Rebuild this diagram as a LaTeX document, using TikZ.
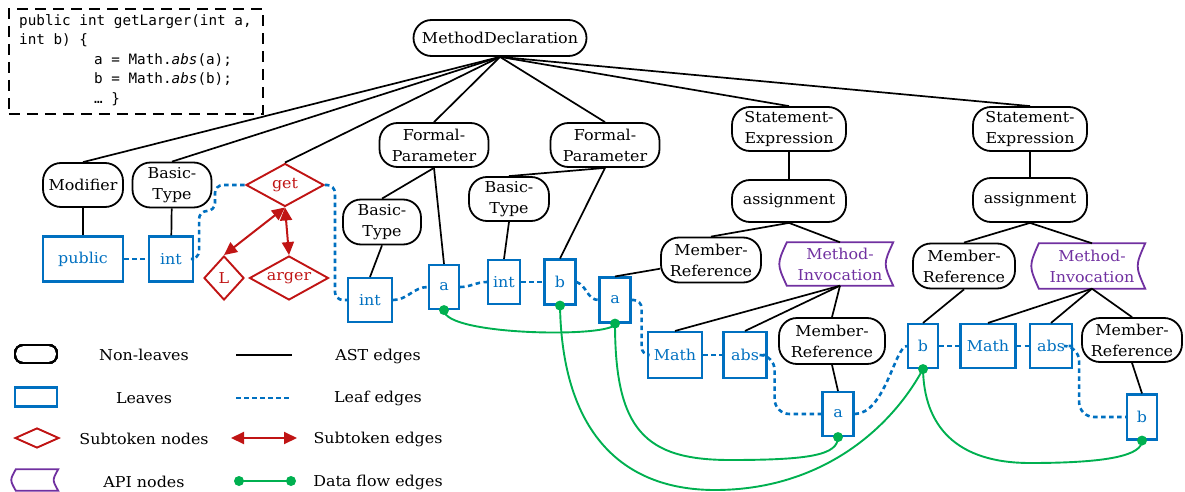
\documentclass[tikz,border=0pt]{standalone}
\usepackage{fontspec}
\setmainfont{DejaVu Serif}[FakeStretch=1.06]
\newfontfamily\codefont{DejaVu Sans Mono}
\usetikzlibrary{shapes.geometric,arrows.meta}
\definecolor{leafblue}{RGB}{0,112,192}
\definecolor{subred}{RGB}{192,20,20}
\definecolor{apipurple}{RGB}{112,48,160}
\definecolor{dfgreen}{RGB}{0,176,80}
\newcommand{\apiborder}[2][10pt]{\draw[apipurple,line width=1.8pt] (#2.north west) .. controls ([xshift=-#1]#2.west) .. (#2.south west) -- (#2.south east) .. controls ([xshift=-#1]#2.east) .. (#2.north east) -- cycle;}
\newcommand{\dfdot}[1]{\fill[dfgreen] (#1) circle (5pt);}
\tikzset{
  txt/.style={font=\fontsize{15}{21}\selectfont},
  nonleaf/.style={txt, draw, line width=1.8pt, rounded corners=18pt, align=center, inner sep=0pt},
  leaf/.style={txt, draw=leafblue, line width=2.1pt, text=leafblue, inner sep=0pt},
  sub/.style={txt, diamond, aspect=2, draw=subred, line width=1.9pt, text=subred, inner sep=0pt},
  api/.style={txt, text=apipurple, align=center, inner sep=0pt},
  ast/.style={line width=1.7pt},
  leafedge/.style={leafblue, line width=2.6pt, dash pattern=on 4.5pt off 3.5pt, rounded corners=8pt},
  subedge/.style={subred, line width=2pt, {Triangle[length=13pt,width=12pt]}-{Triangle[length=13pt,width=12pt]}},
  dataflow/.style={dfgreen, line width=1.9pt},
  lgtext/.style={txt, inner sep=0pt},
}
\begin{document}
\begin{tikzpicture}[x=1pt,y=-1pt]
\useasboundingbox (0,0) rectangle (1185,492);
% code box
\node[draw, dash pattern=on 11pt off 7pt, line width=1.6pt, minimum width=254, minimum height=105, anchor=north west, inner sep=0pt] (codebox) at (8,8) {};
\node[anchor=north west, align=left, inner sep=0pt, font=\codefont\fontsize{14.3}{19.6}\selectfont] (code) at (19,14)
 {public int getLarger(int a,\\int b) \{\\\hspace*{75pt}a = Math.\textit{abs}(a);\\\hspace*{75pt}b = Math.\textit{abs}(b);\\\hspace*{75pt}… \}};
% non-leaves
\node[nonleaf, minimum width=173, minimum height=36] (md) at (500,38) {MethodDeclaration};
\node[nonleaf, minimum width=80, minimum height=44] (mod) at (83,185) {Modifier};
\node[nonleaf, minimum width=79, minimum height=45] (bt1) at (172,185) {Basic-\\Type};
\node[nonleaf, minimum width=109, minimum height=44] (fp1) at (434,145) {Formal-\\Parameter};
\node[nonleaf, minimum width=109, minimum height=44] (fp2) at (605,145) {Formal-\\Parameter};
\node[nonleaf, minimum width=78, minimum height=45] (bt2) at (382,222) {Basic-\\Type};
\node[nonleaf, minimum width=80, minimum height=44] (bt3) at (509,199) {Basic-\\Type};
\node[nonleaf, minimum width=114, minimum height=44] (se1) at (789,129) {Statement-\\Expression};
\node[nonleaf, minimum width=114, minimum height=42] (as1) at (789,201) {assignment};
\node[nonleaf, minimum width=100, minimum height=45] (mr1) at (711,260) {Member-\\Reference};
\node[nonleaf, minimum width=106, minimum height=46] (mr3) at (832,341) {Member-\\Reference};
\node[nonleaf, minimum width=114, minimum height=44] (se2) at (1030,129) {Statement-\\Expression};
\node[nonleaf, minimum width=114, minimum height=44] (as2) at (1030,200) {assignment};
\node[nonleaf, minimum width=102, minimum height=45] (mr2) at (964,266) {Member-\\Reference};
\node[nonleaf, minimum width=100, minimum height=44] (mr4) at (1132,340) {Member-\\Reference};
% api nodes
\node[api, minimum width=106, minimum height=43] (mi1) at (840,264) {Method-\\Invocation};
\apiborder{mi1}
\node[api, minimum width=106, minimum height=45] (mi2) at (1092,266) {Method-\\Invocation};
\apiborder{mi2}
% subtoken nodes
\node[sub, minimum width=78, minimum height=43] (get) at (285,185) {get};
\node[sub, minimum width=40, minimum height=44] (L) at (224,278) {L};
\node[sub, minimum width=79, minimum height=44] (arger) at (289,278) {arger};
% leaves
\node[leaf, minimum width=80, minimum height=45] (public) at (83,259) {public};
\node[leaf, minimum width=44, minimum height=45] (int1) at (171,259) {int};
\node[leaf, minimum width=44, minimum height=44] (int2) at (370,300) {int};
\node[leaf, minimum width=30, minimum height=44] (a1) at (444,287) {a};
\node[leaf, minimum width=32, minimum height=44] (int3) at (504,282) {int};
\node[leaf, minimum width=31, minimum height=45] (b1) at (560,282) {b};
\node[leaf, minimum width=31, minimum height=45] (a2) at (615,300) {a};
\node[leaf, minimum width=54, minimum height=46] (math1) at (675,355) {Math};
\node[leaf, minimum width=43, minimum height=46] (abs1) at (745,355) {abs};
\node[leaf, minimum width=31, minimum height=44] (a3) at (838,414) {a};
\node[leaf, minimum width=30, minimum height=44] (b2) at (923,346) {b};
\node[leaf, minimum width=55, minimum height=44] (math2) at (988,346) {Math};
\node[leaf, minimum width=42, minimum height=44] (abs2) at (1051,346) {abs};
\node[leaf, minimum width=30, minimum height=45] (b3) at (1142,417) {b};
% AST edges
\foreach \t in {mod,bt1,get,fp1,fp2,se1,se2} \draw[ast] (md.south) -- (\t.north);
\draw[ast] (mod) -- (public);
\draw[ast] (bt1) -- (int1);
\draw[ast] (fp1.south) -- (bt2.north);
\draw[ast] (fp1.south) -- (a1.north);
\draw[ast] (fp2.south) -- (bt3.north);
\draw[ast] (fp2.south) -- (b1.north);
\draw[ast] (bt2.south) -- (int2.north);
\draw[ast] (bt3.south) -- (int3.north);
\draw[ast] (se1) -- (as1);
\draw[ast] (as1.south) -- (mr1.north);
\draw[ast] (as1.south) -- (mi1.north);
\draw[ast] (mr1) -- (a2.north);
\draw[ast] (mi1.south) -- (math1.north);
\draw[ast] (mi1.south) -- (abs1.north);
\draw[ast] (mi1.south) -- (mr3.north);
\draw[ast] (mr3.south) -- (a3.north);
\draw[ast] (se2) -- (as2);
\draw[ast] (as2.south) -- (mr2.north);
\draw[ast] (as2.south) -- (mi2.north);
\draw[ast] (mr2.south) -- (b2.north);
\draw[ast] (mi2.south) -- (math2.north);
\draw[ast] (mi2.south) -- (abs2.north);
\draw[ast] (mi2.south) -- (mr4.north);
\draw[ast] (mr4.south) -- (b3.north);
% subtoken edges
\draw[subedge] (get.south) -- (L.north);
\draw[subedge] (get.south) -- (arger.north);
% leaf edges
\draw[leafedge] (public.east) -- (int1.west);
\draw[leafedge] (int1.east) -- ++(5,0) |- (215,211) |- (get.west);
\draw[leafedge] (get.east) -- ++(10,0) |- (int2.west);
\draw[leafedge] (int2.east) to[out=0,in=180] (a1.west);
\draw[leafedge] (a1.east) to[out=0,in=180] (int3.west);
\draw[leafedge] (int3.east) -- (b1.west);
\draw[leafedge] (b1.east) to[out=-20,in=180] (a2.west);
\draw[leafedge] (a2.east) -- ++(10,0) |- (math1.west);
\draw[leafedge] (math1.east) -- (abs1.west);
\draw[leafedge, rounded corners=15pt] (abs1.east) -- ++(7,0) |- (a3.west);
\draw[leafedge] (a3.east) .. controls (885,414) and (895,346) .. (b2.west);
\draw[leafedge] (b2.east) -- (math2.west);
\draw[leafedge] (math2.east) -- (abs2.west);
\draw[leafedge, rounded corners=15pt] (abs2.east) -- ++(6,0) |- (b3.west);
% data flow edges
\draw[dataflow] (a1.south) .. controls (444,336) and (615,338) .. (a2.south);
\draw[dataflow] (b1.south) .. controls (562,430) and (620,490) .. (715,490) .. controls (820,490) and (890,430) .. (b2.south);
\draw[dataflow] (a2.south) .. controls (615,430) and (645,460) .. (730,460) .. controls (810,460) and (838,455) .. (a3.south);
\draw[dataflow] (b2.south) .. controls (924,425) and (955,463) .. (1030,463) .. controls (1110,463) and (1142,455) .. (b3.south);
\foreach \n in {a1,a2,b1,b2,a3,b3} \dfdot{\n.south}
% legend
\node[nonleaf, minimum width=42, minimum height=18, rounded corners=8pt] (lgnl) at (36,354) {};
\node[leaf, minimum width=42, minimum height=19] (lgleaf) at (36,397) {};
\node[sub, minimum width=44, minimum height=20] (lgsub) at (37,438) {};
\node[api, minimum width=42, minimum height=21] (lgapi) at (37,480) {};
\apiborder[6pt]{lgapi}
\node[lgtext] (t1) at (144,355) {Non-leaves};
\node[lgtext] (t2) at (144,398) {Leaves};
\node[lgtext] (t3) at (144,439) {Subtoken nodes};
\node[lgtext] (t4) at (144,482) {API nodes};
\node[lgtext] (t5) at (378,356) {AST edges};
\node[lgtext] (t6) at (378,398) {Leaf edges};
\node[lgtext] (t7) at (378,439) {Subtoken edges};
\node[lgtext] (t8) at (378,482) {Data flow edges};
\coordinate (l1a) at (236,355); \coordinate (l1b) at (292,355);
\coordinate (l2a) at (236,398); \coordinate (l2b) at (292,398);
\coordinate (l3a) at (231,438); \coordinate (l3b) at (297,438);
\coordinate (l4a) at (239,481); \coordinate (l4b) at (291,481);
\draw[ast] (l1a) -- (l1b);
\draw[leafedge] (l2a) -- (l2b);
\draw[subedge] (l3a) -- (l3b);
\draw[dataflow] (l4a) -- (l4b);
\dfdot{l4a} \dfdot{l4b}
\end{tikzpicture}
\end{document}
